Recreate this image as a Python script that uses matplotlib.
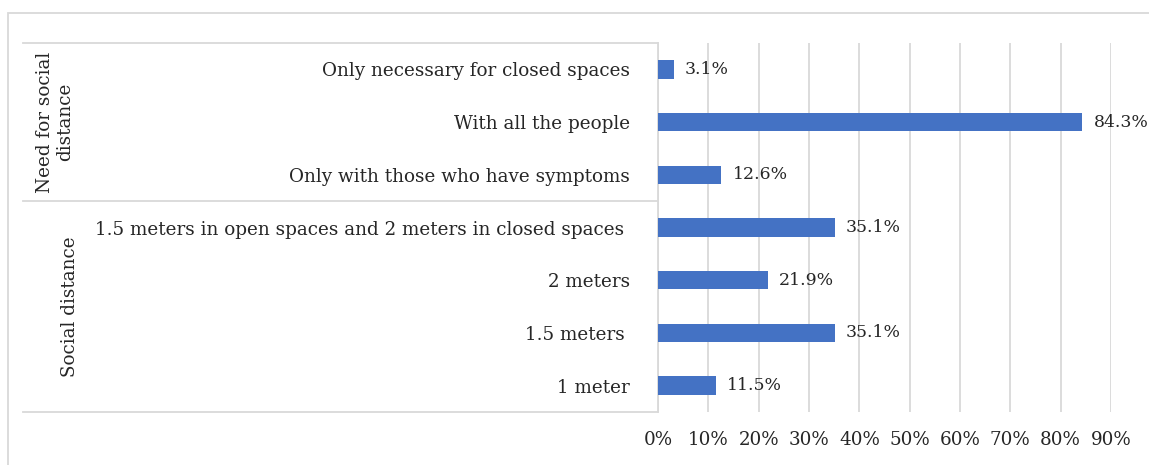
import matplotlib
matplotlib.use('Agg')
import matplotlib.pyplot as plt
from matplotlib.patches import Rectangle

# data, top to bottom as in the chart
categories = ['Only necessary for closed spaces',
              'With all the people',
              'Only with those who have symptoms',
              '1.5 meters in open spaces and 2 meters in closed spaces ',
              '2 meters',
              '1.5 meters ',
              '1 meter']
values = [3.1, 84.3, 12.6, 35.1, 21.9, 35.1, 11.5]
groups = ['Need for social\ndistance', 'Social distance']
group_sizes = [3, 4]
xticks = [0, 10, 20, 30, 40, 50, 60, 70, 80, 90]

W, H = 1149, 465
plt.rcParams['font.family'] = ['DejaVu Serif']
fs = 13.2
txt_color = '#262626'
grid_color = '#D9D9D9'
bar_color = '#4472C4'

fig = plt.figure(figsize=(W / 100, H / 100), dpi=100)
x0, x1, y0, y1 = 658, 1111, 43, 412
ax = fig.add_axes([x0 / W, 1 - y1 / H, (x1 - x0) / W, (y1 - y0) / H])

pos = list(range(len(categories)))
ax.barh(pos, values, height=0.35, color=bar_color, zorder=3)
for p, v in zip(pos, values):
    ax.text(v + 2.2, p, f'{v}%', va='center', ha='left', fontsize=12.4,
            color=txt_color, clip_on=False)

ax.set_xlim(0, 90)
ax.set_ylim(len(categories) - 0.5, -0.5)
ax.set_xticks(xticks)
ax.set_xticklabels([f'{t}%' for t in xticks], fontsize=fs, color=txt_color)
ax.set_yticks(pos)
ax.set_yticklabels(categories, fontsize=fs, color=txt_color)
ax.tick_params(axis='both', length=0)
ax.tick_params(axis='y', pad=20)
ax.tick_params(axis='x', pad=14)
ax.xaxis.grid(True, color=grid_color, linewidth=1.3, zorder=0)
for s in ['top', 'right', 'bottom']:
    ax.spines[s].set_visible(False)
ax.spines['left'].set_color(grid_color)
ax.spines['left'].set_linewidth(1.3)

# multi-level category lines and group labels
tr = ax.get_yaxis_transform()
left = (23 - x0) / (x1 - x0)
start = -0.5
for g, n in zip(groups, group_sizes):
    ax.plot([left, 0], [start, start], color=grid_color, lw=1.3,
            transform=tr, clip_on=False)
    mid = start + n / 2
    gx = (55 - x0) / (x1 - x0) if '\n' in g else (70 - x0) / (x1 - x0)
    ax.text(gx, mid, g, rotation=90, ha='center', va='center', fontsize=fs,
            color=txt_color, transform=tr, multialignment='center')
    start += n
ax.plot([left, 0], [start, start], color=grid_color, lw=1.3,
        transform=tr, clip_on=False)

# chart area border
fig.patches.append(Rectangle((8 / W, -0.1), 1.2, 1 - 13 / H + 0.1,
                             transform=fig.transFigure, fill=False,
                             edgecolor=grid_color, linewidth=1.3))

fig.savefig('out.png', dpi=100)
